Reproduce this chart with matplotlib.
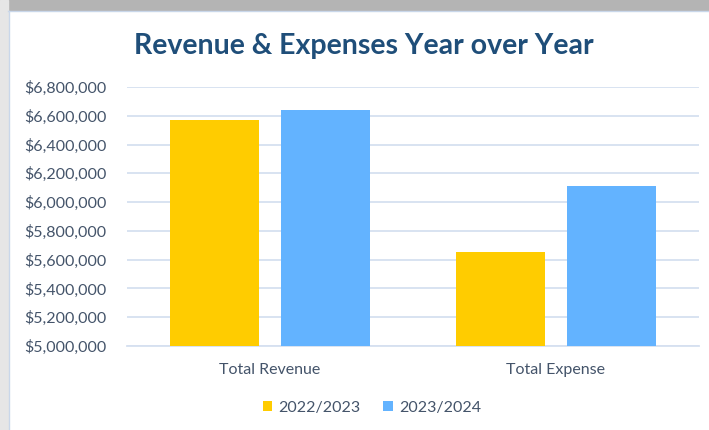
import matplotlib.pyplot as plt
import matplotlib.patches as mpatches
import numpy as np
from matplotlib.ticker import FuncFormatter

# Data
categories = ['Total Revenue', 'Total Expense']
series_names = ['2022/2023', '2023/2024']
values_2022 = [6572000, 5655000]
values_2023 = [6637000, 6112000]
colors = ['#FFCC00', '#63B3FF']

text_color = '#44546A'
title_color = '#1F4E79'
grid_color = '#D6E0F0'

plt.rcParams['font.family'] = ['Lato', 'DejaVu Sans']

fig = plt.figure(figsize=(7.09, 4.3), dpi=100)
fig.patch.set_facecolor('white')

# screenshot frame: gray strip on top and left, thin light border
fig.add_artist(mpatches.Rectangle((0, 1 - 10 / 430), 1, 10 / 430, transform=fig.transFigure,
                                  color='#b4b4b4', zorder=0))
fig.add_artist(mpatches.Rectangle((0, 0), 8 / 709, 1, transform=fig.transFigure,
                                  color='#e6e6e6', zorder=0))
fig.add_artist(plt.Line2D([8 / 709, 1], [1 - 11 / 430, 1 - 11 / 430], transform=fig.transFigure,
                          color='#C9D7EA', linewidth=1))
fig.add_artist(plt.Line2D([8.5 / 709, 8.5 / 709], [0, 1 - 11 / 430], transform=fig.transFigure,
                          color='#C9D7EA', linewidth=1))

ax = fig.add_axes([127 / 709, 1 - 346 / 430, 572 / 709, (346 - 87) / 430])

x = np.arange(len(categories))
width = 0.31
offset = 0.193
ax.bar(x - offset, values_2022, width, color=colors[0], label=series_names[0], zorder=3)
ax.bar(x + offset, values_2023, width, color=colors[1], label=series_names[1], zorder=3)

ax.set_xlim(-0.5, 1.5)
ax.set_ylim(5000000, 6800000)
ax.set_yticks(np.arange(5000000, 6800001, 200000))
ax.yaxis.set_major_formatter(FuncFormatter(lambda v, p: '${:,.0f}'.format(v)))
ax.set_xticks(x)
ax.set_xticklabels(categories)

ax.grid(axis='y', color=grid_color, linewidth=1.3, zorder=0)
for s in ['top', 'right', 'left']:
    ax.spines[s].set_visible(False)
ax.spines['bottom'].set_color(grid_color)
ax.spines['bottom'].set_linewidth(1.3)
ax.tick_params(axis='both', length=0, labelsize=11.5, labelcolor=text_color)
ax.tick_params(axis='y', pad=15)
ax.tick_params(axis='x', pad=12)

fig.text(364 / 709, 1 - 46 / 430, 'Revenue & Expenses Year over Year', ha='center', va='center',
         fontsize=20.5, fontweight='bold', color=title_color)

fig.legend(loc='center', bbox_to_anchor=(372 / 709, 1 - 408 / 430), ncol=2, frameon=False,
           fontsize=11.5, labelcolor=text_color, handlelength=0.6, handleheight=0.6,
           handletextpad=0.4, columnspacing=1.4)

fig.savefig('out.png', dpi=100)
